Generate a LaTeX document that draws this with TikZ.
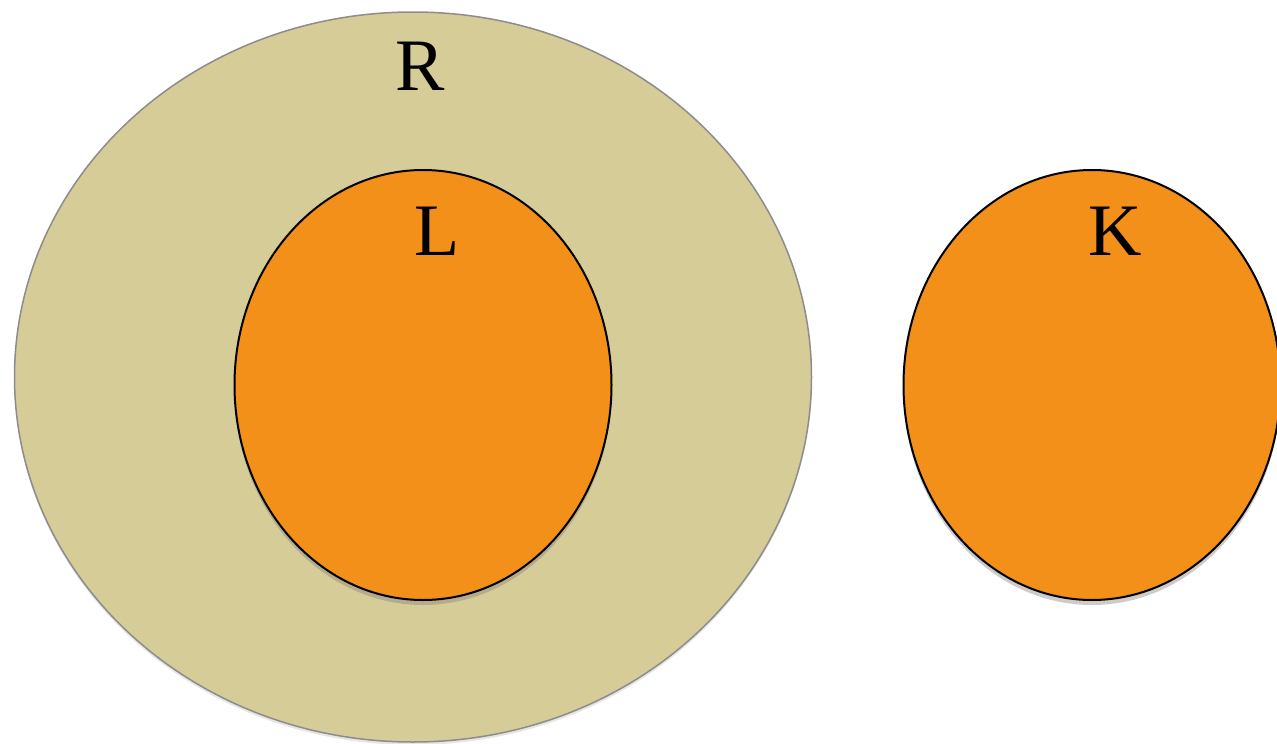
\documentclass[tikz,border=0pt]{standalone}
\usepackage{fontspec}
\setmainfont{Liberation Serif}
\usetikzlibrary{shapes.geometric,shadows}

\definecolor{setbeige}{HTML}{D6CC98}
\definecolor{setorange}{HTML}{F29019}

\tikzset{
  orangeset/.style={ellipse, draw=black, line width=2pt, fill=setorange,
    minimum width=377pt, minimum height=430pt, inner sep=0pt,
    drop shadow={shadow xshift=0pt, shadow yshift=-5pt, opacity=0.4}},
  setname/.style={anchor=base, font=\fontsize{74}{80}\selectfont}
}

\begin{document}
\begin{tikzpicture}[x=1pt, y=-1pt]

\useasboundingbox (0, 0) rectangle (1277, 744);

\node[ellipse, draw=black!45, line width=1.5pt, fill=setbeige, minimum width=797pt, minimum height=730pt, inner sep=0pt,
  drop shadow={shadow xshift=0pt, shadow yshift=-3pt, opacity=0.2}] (R) at (413, 377) {};

\node[orangeset] (L) at (423, 385) {};
\node[orangeset] (K) at (1092, 385) {};

\node[setname] (Rname) at (420, 90) {R};
\node[setname] (Lname) at (437, 255) {L};
\node[setname] (Kname) at (1115, 255) {K};

\end{tikzpicture}
\end{document}
